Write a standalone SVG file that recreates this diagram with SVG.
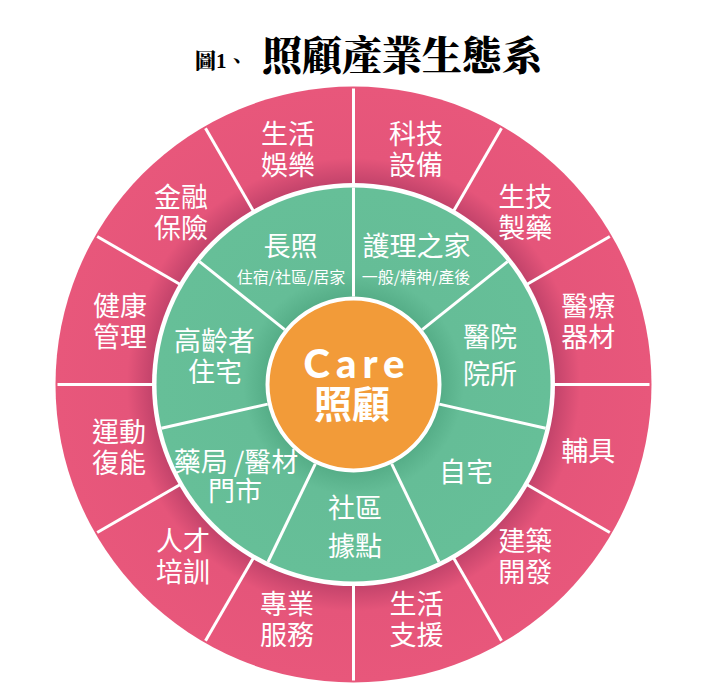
<svg xmlns="http://www.w3.org/2000/svg" width="711" height="690" viewBox="0 0 711 690">
<defs>
<radialGradient id="pinkG" gradientUnits="userSpaceOnUse" cx="353.5" cy="384.5" r="298">
<stop offset="0.66" stop-color="#bd4068"/>
<stop offset="0.76" stop-color="#e5557a"/>
<stop offset="1" stop-color="#e8577b"/>
</radialGradient>
<radialGradient id="greenG" gradientUnits="userSpaceOnUse" cx="353.5" cy="384.5" r="197">
<stop offset="0.44" stop-color="#55ad87"/>
<stop offset="0.56" stop-color="#65bd97"/>
<stop offset="1" stop-color="#66bf98"/>
</radialGradient>
</defs>
<style>
.div{stroke:#ffffff;stroke-width:3;fill:none}
.t{font-family:"Noto Sans CJK TC","Noto Sans CJK SC",sans-serif;fill:#ffffff;text-anchor:middle}
.o{font-size:27px}
.i{font-size:27px}
.s{font-size:16px}
.title{font-family:"Noto Serif CJK TC","Noto Sans CJK TC",serif;font-weight:900;fill:#000000}
</style>
<rect width="711" height="690" fill="#ffffff"/>
<g id="title">
<text class="title" x="195" y="68" font-size="21">圖<tspan font-family="Liberation Serif, serif" font-weight="bold">1</tspan>、<tspan x="262" y="70" font-size="40">照顧產業生態系</tspan></text>
</g>
<g id="rings">
<circle cx="353.5" cy="384.5" r="298" fill="url(#pinkG)"/>
</g>
<g id="connectors">
<g id="outer-dividers" class="div">
<line x1="353.5" y1="184.5" x2="353.5" y2="88.5"/>
<line x1="453.5" y1="211.3" x2="501.5" y2="128.2"/>
<line x1="526.7" y1="284.5" x2="609.8" y2="236.5"/>
<line x1="553.5" y1="384.5" x2="649.5" y2="384.5"/>
<line x1="526.7" y1="484.5" x2="609.8" y2="532.5"/>
<line x1="453.5" y1="557.7" x2="501.5" y2="640.8"/>
<line x1="353.5" y1="584.5" x2="353.5" y2="680.5"/>
<line x1="253.5" y1="557.7" x2="205.5" y2="640.8"/>
<line x1="180.3" y1="484.5" x2="97.2" y2="532.5"/>
<line x1="153.5" y1="384.5" x2="57.5" y2="384.5"/>
<line x1="180.3" y1="284.5" x2="97.2" y2="236.5"/>
<line x1="253.5" y1="211.3" x2="205.5" y2="128.2"/>
</g>
</g>
<g id="green-ring">
<circle cx="353.5" cy="384.5" r="201.5" fill="#ffffff"/>
<circle cx="353.5" cy="384.5" r="197" fill="url(#greenG)"/>
</g>
<g id="inner-dividers" class="div">
<line x1="353.5" y1="296.5" x2="353.5" y2="187.5"/>
<line x1="422.3" y1="329.6" x2="507.5" y2="261.7"/>
<line x1="439.3" y1="404.1" x2="545.6" y2="428.3"/>
<line x1="391.7" y1="463.8" x2="439.0" y2="562.0"/>
<line x1="315.3" y1="463.8" x2="268.0" y2="562.0"/>
<line x1="267.7" y1="404.1" x2="161.4" y2="428.3"/>
<line x1="284.7" y1="329.6" x2="199.5" y2="261.7"/>
</g>
<g id="care">
<circle cx="353.5" cy="384.5" r="86" fill="#f29b39" stroke="#ffffff" stroke-width="4"/>
<text class="t"><tspan x="357" y="378" font-family="Lato, 'Liberation Sans', sans-serif" font-weight="900" font-size="40" letter-spacing="6">Care</tspan><tspan x="352" y="417.5" font-size="38" font-weight="bold">照顧</tspan></text>
</g>
<g id="n-tech"><text class="t o"><tspan x="416" y="144.3">科技</tspan><tspan x="416" y="175.3">設備</tspan></text></g>
<g id="n-bio"><text class="t o"><tspan x="525.3" y="207.2">生技</tspan><tspan x="525.3" y="238.2">製藥</tspan></text></g>
<g id="n-med"><text class="t o"><tspan x="588.2" y="316.1">醫療</tspan><tspan x="588.2" y="347.1">器材</tspan></text></g>
<g id="n-aid"><text class="t o" x="588.2" y="461.4">輔具</text></g>
<g id="n-build"><text class="t o"><tspan x="525.3" y="550.8">建築</tspan><tspan x="525.3" y="581.8">開發</tspan></text></g>
<g id="n-support"><text class="t o"><tspan x="416.4" y="613.7">生活</tspan><tspan x="416.4" y="644.7">支援</tspan></text></g>
<g id="n-service"><text class="t o"><tspan x="287" y="613.7">專業</tspan><tspan x="287" y="644.7">服務</tspan></text></g>
<g id="n-talent"><text class="t o"><tspan x="183" y="550.8">人才</tspan><tspan x="183" y="581.8">培訓</tspan></text></g>
<g id="n-sport"><text class="t o"><tspan x="119" y="442">運動</tspan><tspan x="119" y="473">復能</tspan></text></g>
<g id="n-health"><text class="t o"><tspan x="120" y="316.1">健康</tspan><tspan x="120" y="347.1">管理</tspan></text></g>
<g id="n-finance"><text class="t o"><tspan x="181" y="207.2">金融</tspan><tspan x="181" y="238.2">保險</tspan></text></g>
<g id="n-leisure"><text class="t o"><tspan x="288" y="144.3">生活</tspan><tspan x="288" y="175.3">娛樂</tspan></text></g>
<g id="n-ltc"><text class="t"><tspan class="i" x="290.5" y="255.5">長照</tspan><tspan class="s" x="291" y="283.4">住宿/社區/居家</tspan></text></g>
<g id="n-nursing"><text class="t"><tspan class="i" x="416.5" y="255.5">護理之家</tspan><tspan class="s" x="416" y="283.4">一般/精神/產後</tspan></text></g>
<g id="n-hospital"><text class="t i"><tspan x="490" y="347">醫院</tspan><tspan x="490" y="384">院所</tspan></text></g>
<g id="n-home"><text class="t i" x="466" y="481.5">自宅</text></g>
<g id="n-community"><text class="t i"><tspan x="355" y="517.5">社區</tspan><tspan x="355" y="555.5">據點</tspan></text></g>
<g id="n-pharmacy"><text class="t i"><tspan x="236" y="472">藥局 /醫材</tspan><tspan x="235" y="501">門市</tspan></text></g>
<g id="n-senior"><text class="t i"><tspan x="214.5" y="351">高齡者</tspan><tspan x="215" y="382">住宅</tspan></text></g>
</svg>
